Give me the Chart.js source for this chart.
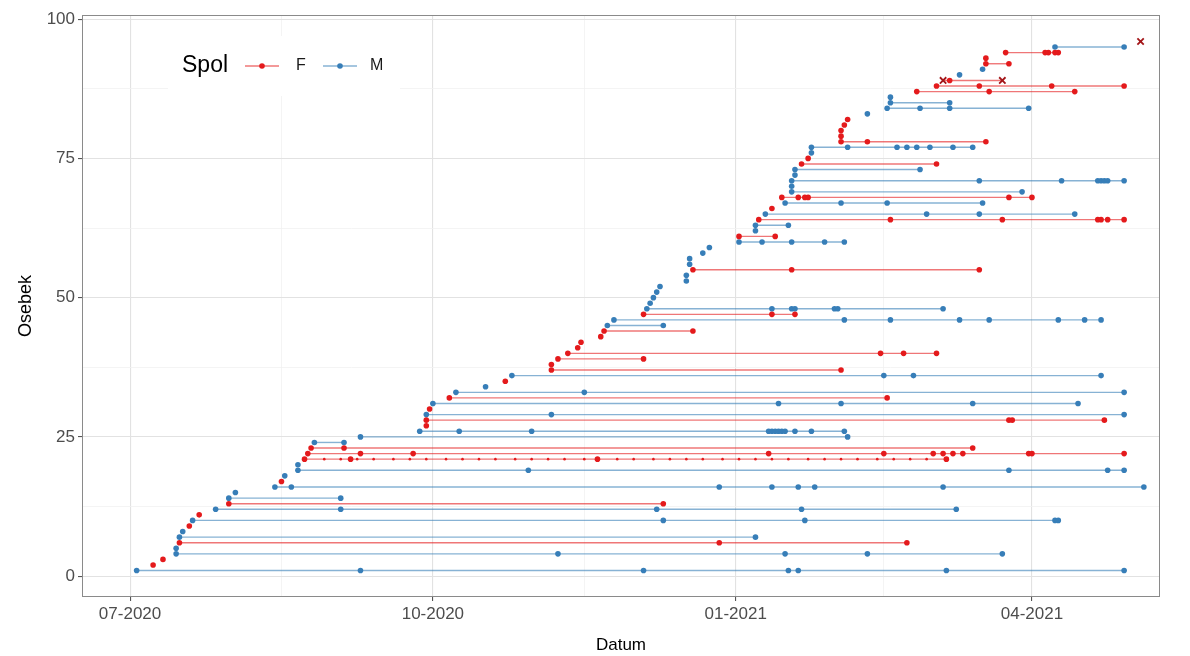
<!DOCTYPE html>
<html><head><meta charset="utf-8">
<script src="https://cdn.jsdelivr.net/npm/chart.js@4.4.1/dist/chart.umd.min.js"></script>
<style>html,body{margin:0;padding:0;background:#fff}#wrap{width:1190px;height:656px}</style>
</head><body><div id="wrap"><canvas id="c" width="1190" height="656"></canvas></div>
<script>
// ---------- data ----------
const spol = ['M','F','F','M','M','F','M','M','F','M',
 'F','M','F','M','M','M','F','M','M','M',
 'F','F','F','M','M','M','F','F','M','F',
 'M','F','M','M','F','M','F','F','F','F',
 'F','F','F','F','M','M','F','M','M','M',
 'M','M','M','M','F','M','M','M','M','M',
 'F','M','M','F','M','F','M','F','M','M',
 'M','M','M','F','F','M','M','F','F','F',
 'F','F','M','M','M','M','F','F','F','M',
 'M','F','F','F','M','F'];

const ulovi = [
 ['2020-07-03','2020-09-09','2020-12-04','2021-01-17','2021-01-20','2021-03-06','2021-04-29'],
 ['2020-07-08'],
 ['2020-07-11'],
 ['2020-07-15','2020-11-08','2021-01-16','2021-02-10','2021-03-23'],
 ['2020-07-15'],
 ['2020-07-16','2020-12-27','2021-02-22'],
 ['2020-07-16','2021-01-07'],
 ['2020-07-17'],
 ['2020-07-19'],
 ['2020-07-20','2020-12-10','2021-01-22','2021-04-08','2021-04-09'],
 ['2020-07-22'],
 ['2020-07-27','2020-09-03','2020-12-08','2021-01-21','2021-03-09'],
 ['2020-07-31','2020-12-10'],
 ['2020-07-31','2020-09-03'],
 ['2020-08-02'],
 ['2020-08-14','2020-08-19','2020-12-27','2021-01-12','2021-01-20','2021-01-25','2021-03-05','2021-05-05'],
 ['2020-08-16'],
 ['2020-08-17'],
 ['2020-08-21','2020-10-30','2021-03-25','2021-04-24','2021-04-29'],
 ['2020-08-21'],
 ['2020-08-23','2020-09-06','2020-11-20','2021-03-06'],
 ['2020-08-24','2020-09-09','2020-09-25','2021-01-11','2021-02-15','2021-03-02','2021-03-05','2021-03-08','2021-03-11','2021-03-31','2021-04-01','2021-04-29'],
 ['2020-08-25','2020-09-04','2021-03-14'],
 ['2020-08-26','2020-09-04'],
 ['2020-09-09','2021-02-04'],
 ['2020-09-27','2020-10-09','2020-10-31','2021-01-11','2021-01-12','2021-01-13','2021-01-14','2021-01-15','2021-01-16','2021-01-19','2021-01-24','2021-02-03'],
 ['2020-09-29'],
 ['2020-09-29','2021-03-25','2021-03-26','2021-04-23'],
 ['2020-09-29','2020-11-06','2021-04-29'],
 ['2020-09-30'],
 ['2020-10-01','2021-01-14','2021-02-02','2021-03-14','2021-04-15'],
 ['2020-10-06','2021-02-16'],
 ['2020-10-08','2020-11-16','2021-04-29'],
 ['2020-10-17'],
 ['2020-10-23'],
 ['2020-10-25','2021-02-15','2021-02-24','2021-04-22'],
 ['2020-11-06','2021-02-02'],
 ['2020-11-06'],
 ['2020-11-08','2020-12-04'],
 ['2020-11-11','2021-02-14','2021-02-21','2021-03-03'],
 ['2020-11-14'],
 ['2020-11-15'],
 ['2020-11-21'],
 ['2020-11-22','2020-12-19'],
 ['2020-11-23','2020-12-10'],
 ['2020-11-25','2021-02-03','2021-02-17','2021-03-10','2021-03-19','2021-04-09','2021-04-17','2021-04-22'],
 ['2020-12-04','2021-01-12','2021-01-19'],
 ['2020-12-05','2021-01-12','2021-01-18','2021-01-19','2021-01-31','2021-02-01','2021-03-05'],
 ['2020-12-06'],
 ['2020-12-07'],
 ['2020-12-08'],
 ['2020-12-09'],
 ['2020-12-17'],
 ['2020-12-17'],
 ['2020-12-19','2021-01-18','2021-03-16'],
 ['2020-12-18'],
 ['2020-12-18'],
 ['2020-12-22'],
 ['2020-12-24'],
 ['2021-01-02','2021-01-09','2021-01-18','2021-01-28','2021-02-03'],
 ['2021-01-02','2021-01-13'],
 ['2021-01-07'],
 ['2021-01-07','2021-01-17'],
 ['2021-01-08','2021-02-17','2021-03-23','2021-04-21','2021-04-22','2021-04-24','2021-04-29'],
 ['2021-01-10','2021-02-28','2021-03-16','2021-04-14'],
 ['2021-01-12'],
 ['2021-01-16','2021-02-02','2021-02-16','2021-03-17'],
 ['2021-01-15','2021-01-20','2021-01-22','2021-01-23','2021-03-25','2021-04-01'],
 ['2021-01-18','2021-03-29'],
 ['2021-01-18'],
 ['2021-01-18','2021-03-16','2021-04-10','2021-04-21','2021-04-22','2021-04-23','2021-04-24','2021-04-29'],
 ['2021-01-19'],
 ['2021-01-19','2021-02-26'],
 ['2021-01-21','2021-03-03'],
 ['2021-01-23'],
 ['2021-01-24'],
 ['2021-01-24','2021-02-04','2021-02-19','2021-02-22','2021-02-25','2021-03-01','2021-03-08','2021-03-14'],
 ['2021-02-02','2021-02-10','2021-03-18'],
 ['2021-02-02'],
 ['2021-02-02'],
 ['2021-02-03'],
 ['2021-02-04'],
 ['2021-02-10'],
 ['2021-02-16','2021-02-26','2021-03-07','2021-03-31'],
 ['2021-02-17','2021-03-07'],
 ['2021-02-17'],
 ['2021-02-25','2021-03-19','2021-04-14'],
 ['2021-03-03','2021-03-16','2021-04-07','2021-04-29'],
 ['2021-03-05','2021-03-07','2021-03-23'],
 ['2021-03-10'],
 ['2021-03-17'],
 ['2021-03-18','2021-03-25'],
 ['2021-03-18'],
 ['2021-03-24','2021-04-05','2021-04-06','2021-04-08','2021-04-09'],
 ['2021-04-08','2021-04-29'],
 ['2021-05-04']
];

// small observation dots (individual 21)
const opazanjaOsebek = 21;
const opazanjaDatumi = ['2020-08-29','2020-09-03','2020-09-08','2020-09-13','2020-09-19','2020-09-24','2020-09-29',
 '2020-10-05','2020-10-10','2020-10-15','2020-10-20','2020-10-26','2020-10-31','2020-11-05','2020-11-10','2020-11-16',
 '2020-11-26','2020-12-01','2020-12-07','2020-12-12','2020-12-17','2020-12-22','2020-12-28','2021-01-02','2021-01-07',
 '2021-01-12','2021-01-17','2021-01-23','2021-01-28','2021-02-02','2021-02-07','2021-02-13','2021-02-18','2021-02-23','2021-02-28'];

// captures drawn with an "x"
const krizOsebki = [89, 89, 96];
const krizDatumi = ['2021-03-05','2021-03-23','2021-05-04'];

const tickDatumi = ['2020-07-01','2020-10-01','2021-01-01','2021-04-01'];
const tickOznake = ['07-2020','10-2020','01-2021','04-2021'];
const minorDatumi = ['2020-08-16','2020-11-16','2021-02-15'];
const yTicks = [0, 25, 50, 75, 100];
const yMinor = [12.5, 37.5, 62.5, 87.5];

// ---------- helpers ----------
const D0 = Date.UTC(2020, 6, 1);
const dan = s => { const p = s.split('-').map(Number); return (Date.UTC(p[0], p[1]-1, p[2]) - D0) / 864e5; };
const BARVA = { F: '#E41A1C', M: '#377EB8' };
const CRTA = { F: 'rgba(228,26,28,0.6)', M: 'rgba(55,126,184,0.6)' };
const FONT = '"Liberation Sans", Arial, Helvetica, sans-serif';

const jeKriz = (id, d) => krizOsebki.some((o, k) => o === id && krizDatumi[k] === d);

const datasets = [];
const tockeF = [], tockeM = [];
ulovi.forEach((datumi, i) => {
  const id = i + 1, s = spol[i];
  if (datumi.length > 1) {
    datasets.push({ data: datumi.map(d => ({ x: dan(d), y: id })), showLine: true,
      borderColor: CRTA[s], borderWidth: 1.4, pointRadius: 0, pointHoverRadius: 0, order: 3 });
  }
  datumi.forEach(d => { if (!jeKriz(id, d)) (s === 'F' ? tockeF : tockeM).push({ x: dan(d), y: id }); });
});
datasets.push({ data: opazanjaDatumi.map(d => ({ x: dan(d), y: opazanjaOsebek })), pointRadius: 1.3,
  backgroundColor: BARVA.F, borderWidth: 0, order: 2 });
datasets.push({ data: tockeF, pointRadius: 2.8, backgroundColor: BARVA.F, borderWidth: 0, order: 1 });
datasets.push({ data: tockeM, pointRadius: 2.8, backgroundColor: BARVA.M, borderWidth: 0, order: 1 });
datasets.push({ data: krizOsebki.map((o, k) => ({ x: dan(krizDatumi[k]), y: o })), pointStyle: 'crossRot',
  pointRadius: 4.5, borderColor: '#a31518', borderWidth: 1.8, backgroundColor: 'transparent', order: 0 });

const xMajor = tickDatumi.map(dan), xMinor = minorDatumi.map(dan);

const okvir = {
  id: 'okvir',
  afterDatasetsDraw(chart) {
    const { ctx, chartArea: a } = chart;
    ctx.save();
    ctx.strokeStyle = '#8a8a8a'; ctx.lineWidth = 1;
    ctx.strokeRect(a.left + 0.5, a.top + 0.5, a.right - a.left - 1, a.bottom - a.top - 1);
    // legend
    ctx.fillStyle = '#fff'; ctx.fillRect(168, 36, 232, 60);
    ctx.fillStyle = '#000'; ctx.textBaseline = 'middle'; ctx.textAlign = 'left';
    ctx.font = '23px ' + FONT; ctx.fillText('Spol', 182, 66);
    const key = (x0, x1, s, lbl, tx) => {
      ctx.strokeStyle = CRTA[s]; ctx.lineWidth = 1.4;
      ctx.beginPath(); ctx.moveTo(x0, 66); ctx.lineTo(x1, 66); ctx.stroke();
      ctx.fillStyle = BARVA[s]; ctx.beginPath(); ctx.arc((x0 + x1) / 2, 66, 2.8, 0, Math.PI * 2); ctx.fill();
      ctx.fillStyle = '#1a1a1a'; ctx.font = '16px ' + FONT; ctx.fillText(lbl, tx, 66);
    };
    key(245, 279, 'F', 'F', 296);
    key(323, 357, 'M', 'M', 370);
    ctx.restore();
  }
};

new Chart(document.getElementById('c'), {
  type: 'scatter',
  data: { datasets },
  options: {
    responsive: false, animation: false, events: [],
    layout: { padding: { left: 0, right: 30, top: 15, bottom: 0 } },
    plugins: { legend: { display: false }, tooltip: { enabled: false } },
    scales: {
      x: {
        type: 'linear', min: -14.6, max: 312.9, bounds: 'data',
        afterBuildTicks: s => { s.ticks = xMajor.concat(xMinor).sort((a, b) => a - b).map(v => ({ value: v })); },
        afterFit: s => { s.height = 59; },
        ticks: { autoSkip: false, maxRotation: 0, padding: 3, color: '#4d4d4d', font: { family: FONT, size: 17 },
          callback: v => { const k = xMajor.indexOf(v); return k >= 0 ? tickOznake[k] : ''; } },
        grid: { color: c => xMajor.includes(c.tick && c.tick.value) ? '#e2e2e2' : '#f1f1f1',
          lineWidth: c => xMajor.includes(c.tick && c.tick.value) ? 1.1 : 0.8,
          tickColor: c => xMajor.includes(c.tick && c.tick.value) ? '#555' : 'rgba(0,0,0,0)', tickLength: 4 },
        border: { display: false },
        title: { display: true, text: 'Datum', color: '#000', font: { family: FONT, size: 17 }, padding: { top: 0, bottom: 0 } }
      },
      y: {
        type: 'linear', min: -3.75, max: 100.75, bounds: 'data',
        afterBuildTicks: s => { s.ticks = yTicks.concat(yMinor).sort((a, b) => a - b).map(v => ({ value: v })); },
        afterFit: s => { s.width = 82; },
        ticks: { autoSkip: false, padding: 3, color: '#4d4d4d', font: { family: FONT, size: 17 },
          callback: v => yTicks.includes(v) ? String(v) : '' },
        grid: { color: c => yTicks.includes(c.tick && c.tick.value) ? '#e2e2e2' : '#f1f1f1',
          lineWidth: c => yTicks.includes(c.tick && c.tick.value) ? 1.1 : 0.8,
          tickColor: c => yTicks.includes(c.tick && c.tick.value) ? '#555' : 'rgba(0,0,0,0)', tickLength: 4 },
        border: { display: false },
        title: { display: true, text: 'Osebek', color: '#000', font: { family: FONT, size: 18 }, padding: { top: 15, bottom: 0 } }
      }
    }
  },
  plugins: [okvir]
});
</script>
</body></html>
